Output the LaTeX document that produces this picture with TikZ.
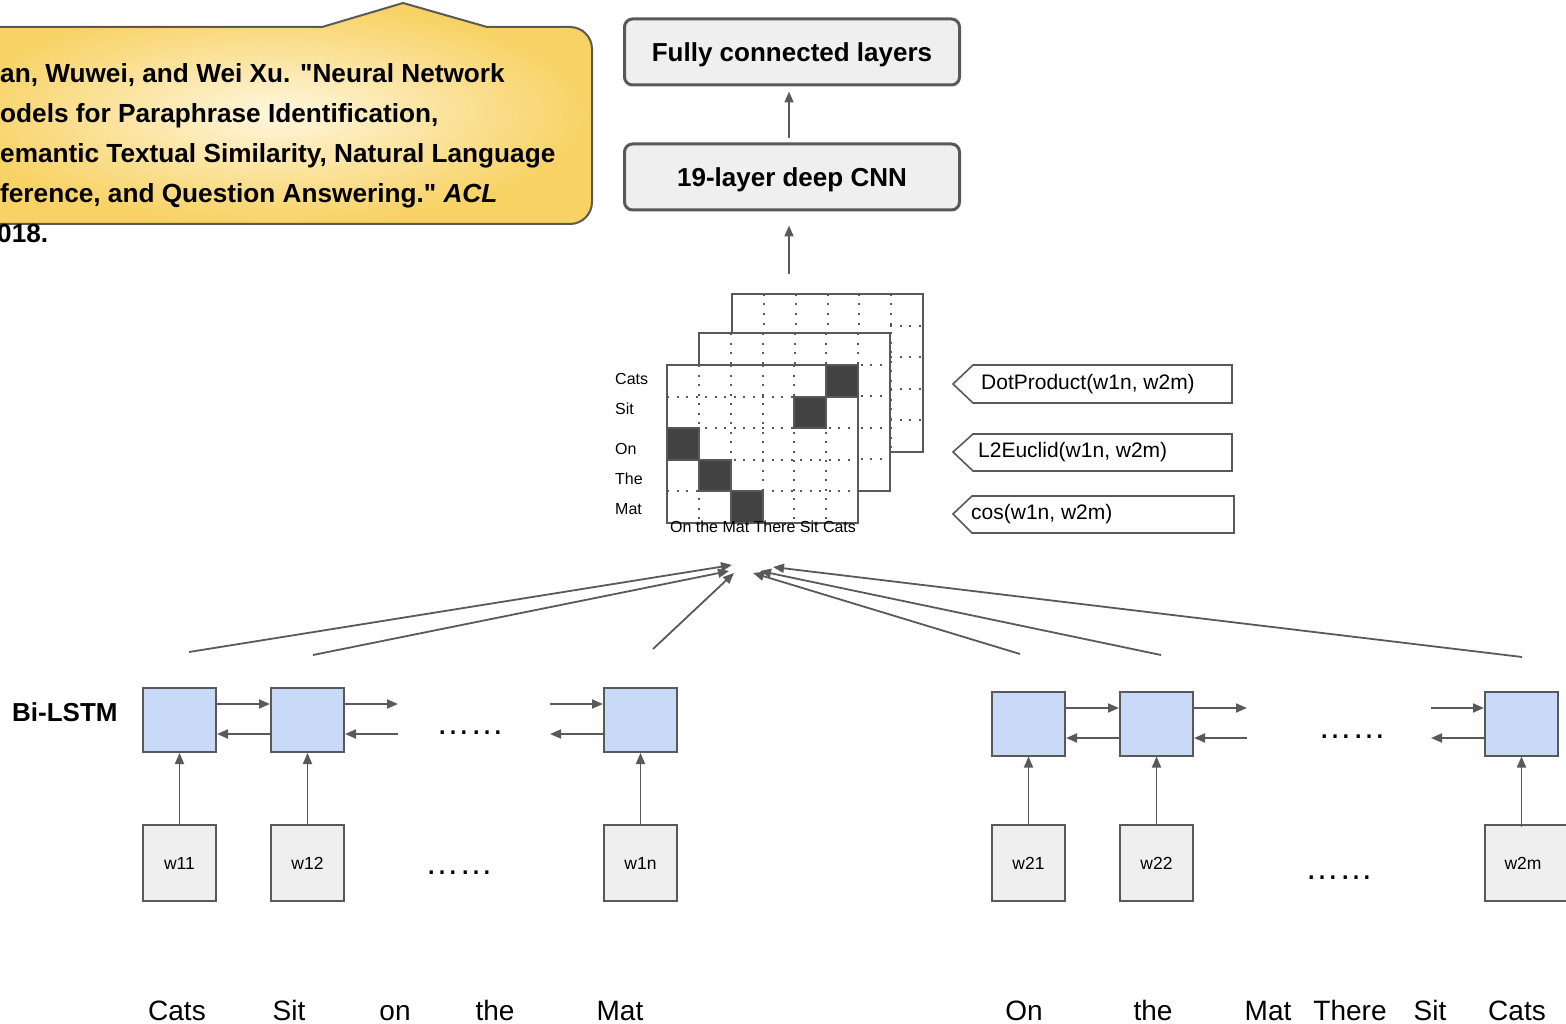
\documentclass[tikz,border=0pt]{standalone}
\usepackage{fontspec}
\setmainfont{Liberation Sans}[Ligatures=TeXOff]
\usetikzlibrary{arrows.meta,calc}
\definecolor{ln}{HTML}{595959}
\definecolor{cellblue}{HTML}{C9DAF8}
\definecolor{boxgray}{HTML}{EFEFEF}
\definecolor{darkcell}{HTML}{434343}
\definecolor{calin}{HTML}{FFF6DE}
\definecolor{calout}{HTML}{F8D264}
% #1,#2 = top-left corner; #3 = x where the horizontal dotted lines start
\newcommand\simgrid[3]{%
  \draw[gframe] (#1,#2) rectangle ++(191,158);
  \foreach \i in {1,...,5} \draw[gdots] ({#1+\i*191/6},#2) -- ++(0,158);
  \foreach \j in {1,...,4} \draw[gdots] (#3,{#2+\j*158/5}) -- ({#1+191},{#2+\j*158/5});
  \draw[gframe, fill=none] (#1,#2) rectangle ++(191,158);
}
\begin{document}
\begin{tikzpicture}[x=1pt,y=-1pt,
  arr/.style={draw=ln, line width=1.8pt, -{Triangle[length=11pt,width=9pt]}},
  lstm/.style={draw=ln, line width=2pt, fill=cellblue, minimum width=73pt, minimum height=64pt, inner sep=0pt},
  wbox/.style={draw=ln, line width=2pt, fill=boxgray, minimum width=73pt, minimum height=76pt, inner sep=0pt, font=\fontsize{17.5}{20}\selectfont},
  topbox/.style={draw=ln, line width=3pt, fill=boxgray, rounded corners=8pt, minimum width=335pt, minimum height=66pt, text height=20pt, text depth=0pt, font=\bfseries\fontsize{26}{30}\selectfont},
  word/.style={font=\fontsize{28}{32}\selectfont, inner sep=0pt, anchor=base},
  gl/.style={font=\fontsize{16}{18}\selectfont, anchor=west, inner sep=0pt},
  fn/.style={font=\fontsize{21}{24}\selectfont, anchor=west, inner sep=0pt},
  fnshape/.style={draw=ln, line width=1.6pt, fill=white},
  gframe/.style={draw=ln, line width=2pt, fill=white},
  gdots/.style={draw=ln, line width=2pt, dash pattern=on 2pt off 7.5pt},
  darkbox/.style={draw=ln, line width=2pt, fill=darkcell},
  ell/.style={font=\fontsize{34}{36}\selectfont, inner sep=0pt, anchor=base},
  cite/.style={font=\bfseries\fontsize{26.2}{30}\selectfont, anchor=base west, inner sep=0pt},
]
\useasboundingbox (0,0) rectangle (1566,1024);
\clip (0,0) rectangle (1566,1024);

% callout
\shadedraw[draw=ln, line width=2pt, inner color=calin, outer color=calout]
  (487,27) [rounded corners=22pt] -- (592,27) -- (592,224) -- (-40,224) [sharp corners] -- (-40,27) -- (322,27) -- (403,3) -- cycle;
\node[cite] (c1) at (0,83) {an, Wuwei, and Wei Xu. "Neural Network};
\node[cite] (c2) at (0,123) {odels for Paraphrase Identification,};
\node[cite] (c3) at (0,163) {emantic Textual Similarity, Natural Language};
\node[cite] (c4) at (0,203) {ference, and Question Answering." \itshape ACL};
\node[cite] (c5) at (-3,243) {018.};

% top boxes
\node[topbox] (fc) at (792,52) {Fully connected layers};
\node[topbox] (cnn) at (792,177) {19-layer deep CNN};
\coordinate (cnnin) at (789,274);
\draw[arr, shorten >=14pt] (cnnin) -- (cnnin |- cnn.south);
\draw[arr, shorten <=4pt, shorten >=5pt] ($(cnn.north)+(-3,0)$) -- ($(fc.south)+(-3,0)$);

% similarity grids
\simgrid{732}{294}{890}
\simgrid{699}{333}{699}
\simgrid{667}{365}{667}
\draw[darkbox] ({667+5*191/6},365) rectangle ++({191/6},{158/5});
\draw[darkbox] ({667+4*191/6},{365+158/5}) rectangle ++({191/6},{158/5});
\draw[darkbox] (667,{365+2*158/5}) rectangle ++({191/6},{158/5});
\draw[darkbox] ({667+191/6},{365+3*158/5}) rectangle ++({191/6},{158/5});
\draw[darkbox] ({667+2*191/6},{365+4*158/5}) rectangle ++({191/6},{158/5});
\node[gl] (lcats) at (615,379) {Cats};
\node[gl] (lsit) at (615,409) {Sit};
\node[gl] (lon) at (615,449) {On};
\node[gl] (lthe) at (615,479) {The};
\node[gl] (lmat) at (615,509) {Mat};
\node[font=\fontsize{16}{18}\selectfont, inner sep=0pt] (lbot) at (763,527) {On the Mat There Sit Cats};

% similarity functions
\draw[fnshape] (953,384) -- (973,365) -- (1232,365) -- (1232,403) -- (973,403) -- cycle;
\node[fn] (dp) at (981,384) {DotProduct(w1n, w2m)};
\draw[fnshape] (953,452) -- (973,434) -- (1232,434) -- (1232,471) -- (973,471) -- cycle;
\node[fn] (l2) at (978,452) {L2Euclid(w1n, w2m)};
\draw[fnshape] (953,514) -- (972,496) -- (1234,496) -- (1234,533) -- (972,533) -- cycle;
\node[fn] (cs) at (971,514) {cos(w1n, w2m)};

% converging arrows
\coordinate (s1) at (189,652); \coordinate (e1) at (732,565);
\coordinate (s2) at (313,655); \coordinate (e2) at (729,571);
\coordinate (s3) at (653,649); \coordinate (e3) at (734,573);
\coordinate (s4) at (1020,654); \coordinate (e4) at (753,573);
\coordinate (s5) at (1161,655); \coordinate (e5) at (760,571);
\coordinate (s6) at (1522,657); \coordinate (e6) at (773,567);
\foreach \k in {1,...,6} \draw[arr] (s\k) -- (e\k);

% Bi-LSTM label
\node[font=\bfseries\fontsize{26}{30}\selectfont, anchor=west, inner sep=0pt] (bilstm) at (12,712) {Bi-LSTM};

% LSTM cells
\node[lstm] (c11) at (179.5,720) {};
\node[lstm] (c12) at (307.5,720) {};
\node[lstm] (c1n) at (640.5,720) {};
\node[lstm] (c21) at (1028.5,723.5) {};
\node[lstm] (c22) at (1156.5,723.5) {};
\node[lstm] (c2m) at (1521.5,723.5) {};

% word boxes
\node[wbox] (w11) at (179.5,863) {w11};
\node[wbox] (w12) at (307.5,863) {w12};
\node[wbox] (w1n) at (640.5,863) {w1n};
\node[wbox] (w21) at (1028.5,863) {w21};
\node[wbox] (w22) at (1156.5,863) {w22};
\node[wbox, minimum width=84pt] (w2m) at (1527,863) {\hspace*{-8pt}w2m};

% vertical arrows
\foreach \a/\b in {w11/c11, w12/c12, w1n/c1n, w21/c21, w22/c22}
  \draw[arr] (\a.north) -- (\b.south);
\draw[arr] ([yshift=-3pt]c2m.south |- w2m.north) -- (c2m.south);

% horizontal arrows left
\coordinate (a1) at (398,704); \coordinate (a2) at (398,734);
\coordinate (a3) at (550,704); \coordinate (a4) at (550,734);
\draw[arr] ([yshift=16pt]c11.east) -- ([yshift=16pt]c12.west);
\draw[arr] ([yshift=-14pt]c12.west) -- ([yshift=-14pt]c11.east);
\draw[arr] ([yshift=16pt]c12.east) -- (a1);
\draw[arr] (a2) -- ([yshift=-14pt]c12.east);
\draw[arr] (a3) -- ([yshift=16pt]c1n.west);
\draw[arr] ([yshift=-14pt]c1n.west) -- (a4);

% horizontal arrows right
\coordinate (b1) at (1247,708); \coordinate (b2) at (1247,738);
\coordinate (b3) at (1431,708); \coordinate (b4) at (1431,738);
\draw[arr] ([yshift=15.5pt]c21.east) -- ([yshift=15.5pt]c22.west);
\draw[arr] ([yshift=-14.5pt]c22.west) -- ([yshift=-14.5pt]c21.east);
\draw[arr] ([yshift=15.5pt]c22.east) -- (b1);
\draw[arr] (b2) -- ([yshift=-14.5pt]c22.east);
\draw[arr] (b3) -- ([yshift=15.5pt]c2m.west);
\draw[arr] ([yshift=-14.5pt]c2m.west) -- (b4);

% ellipses
\node[ell] (d1) at (470,734) {……};
\node[ell] (d2) at (459,874) {……};
\node[ell] (d3) at (1352,738) {……};
\node[ell] (d4) at (1339,879) {……};

% words
\node[word] (t1) at (177,1020) {Cats};
\node[word] (t2) at (289,1020) {Sit};
\node[word] (t3) at (395,1020) {on};
\node[word] (t4) at (495,1020) {the};
\node[word] (t5) at (620,1020) {Mat};
\node[word] (u1) at (1024,1020) {On};
\node[word] (u2) at (1153,1020) {the};
\node[word] (u3) at (1268,1020) {Mat};
\node[word] (u4) at (1350,1020) {There};
\node[word] (u5) at (1430,1020) {Sit};
\node[word] (u6) at (1517,1020) {Cats};
\end{tikzpicture}
\end{document}
